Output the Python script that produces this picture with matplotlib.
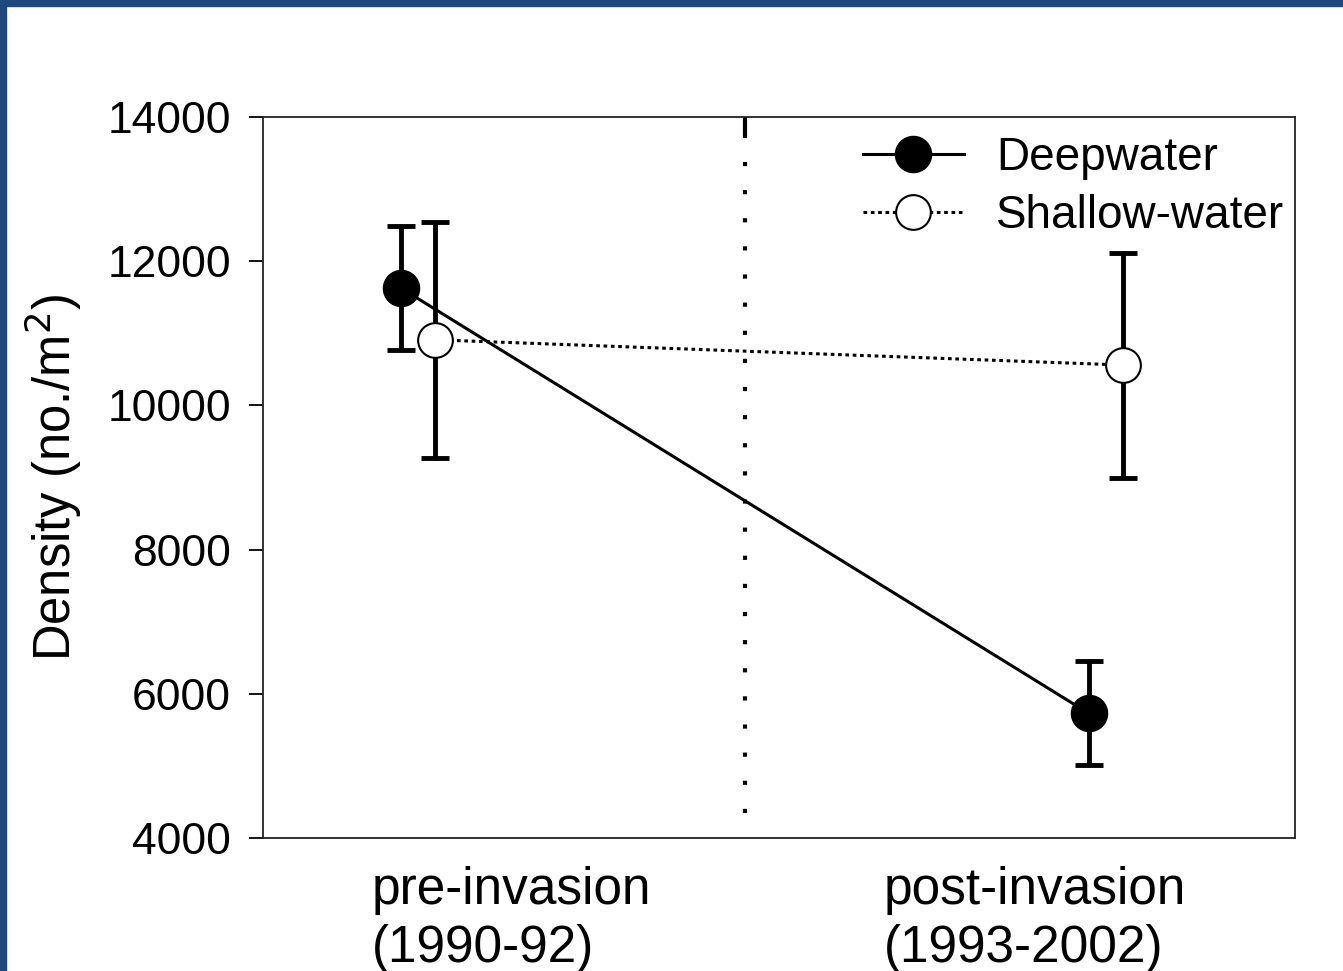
import numpy as np
import matplotlib
matplotlib.use("Agg")
import matplotlib.pyplot as plt
from matplotlib.patches import Rectangle
from matplotlib.lines import Line2D

plt.rcParams['font.family'] = ['Liberation Sans', 'DejaVu Sans']

# Mean density (no./m2) and error for each period
periods = ["pre-invasion\n(1990-92)", "post-invasion\n(1993-2002)"]
deep_mean = [11630, 5730]
deep_err = [860, 720]
shallow_mean = [10910, 10560]
shallow_err = [1640, 1560]

deep_x = [0.8, 4.8]
shallow_x = [1.0, 5.0]
divider_x = 2.8
label_x = [0.634, 3.61]

fig = plt.figure(figsize=(13.43, 9.71), dpi=100)
ax = fig.add_axes([263 / 1343, 133 / 971, 1032 / 1343, 721 / 971])

# dark blue slide frame along the top and left edges
fig.patches.append(Rectangle((0, 1 - 6 / 971), 1, 6 / 971, transform=fig.transFigure,
                             color='#1F497D', zorder=0))
fig.patches.append(Rectangle((0, 0), 6 / 1343, 1, transform=fig.transFigure,
                             color='#1F497D', zorder=0))

# period divider
ax.plot([divider_x, divider_x], [4350, 13800], color='black', lw=3,
        linestyle=(0, (1, 5.75)), zorder=1)
ax.plot([divider_x, divider_x], [13780, 14000], color='black', lw=3, zorder=1)

ax.errorbar(deep_x, deep_mean, yerr=deep_err, fmt='none', ecolor='black',
            elinewidth=3.5, capsize=10, capthick=3.5, zorder=2)
ax.errorbar(shallow_x, shallow_mean, yerr=shallow_err, fmt='none', ecolor='black',
            elinewidth=3.5, capsize=10, capthick=3.5, zorder=2)

ax.plot(deep_x, deep_mean, color='black', lw=2.2, marker='o', markersize=26,
        markerfacecolor='black', markeredgecolor='black', zorder=3)
ax.plot(shallow_x, shallow_mean, color='black', lw=2.2, linestyle=(0, (1.2, 1.2)),
        marker='o', markersize=25, markerfacecolor='white', markeredgecolor='black',
        markeredgewidth=1.5, zorder=3)

ax.set_xlim(0, 6)
ax.set_ylim(4000, 14000)
ax.set_yticks(np.arange(4000, 14001, 2000))
ax.tick_params(axis='y', direction='out', length=10, width=1.3, labelsize=32, pad=13)
ax.set_xticks(label_x)
ax.set_xticklabels(periods, ha='left', fontsize=37, linespacing=1.24)
ax.tick_params(axis='x', length=0, pad=20)
for s in ax.spines.values():
    s.set_linewidth(1.3)
    s.set_color('#222222')

ax.set_ylabel("Density (no./m$^2$)", fontsize=36.5)
ax.yaxis.set_label_coords(-0.173, 0.5)

handles = [
    Line2D([], [], color='black', lw=2.2, marker='o', markersize=26,
           markerfacecolor='black'),
    Line2D([], [], color='black', lw=2.2, linestyle=(0, (1.2, 1.2)), marker='o',
           markersize=25, markerfacecolor='white', markeredgewidth=1.5),
]
ax.legend(handles, ["Deepwater", "Shallow-water"], loc='upper right',
          bbox_to_anchor=(1284 / 1343, (971 - 136) / 971), bbox_transform=fig.transFigure,
          frameon=False, fontsize=33, handlelength=2.2, handletextpad=0.7,
          labelspacing=0.3, borderpad=0, borderaxespad=0)

fig.savefig("out.png", dpi=100)
